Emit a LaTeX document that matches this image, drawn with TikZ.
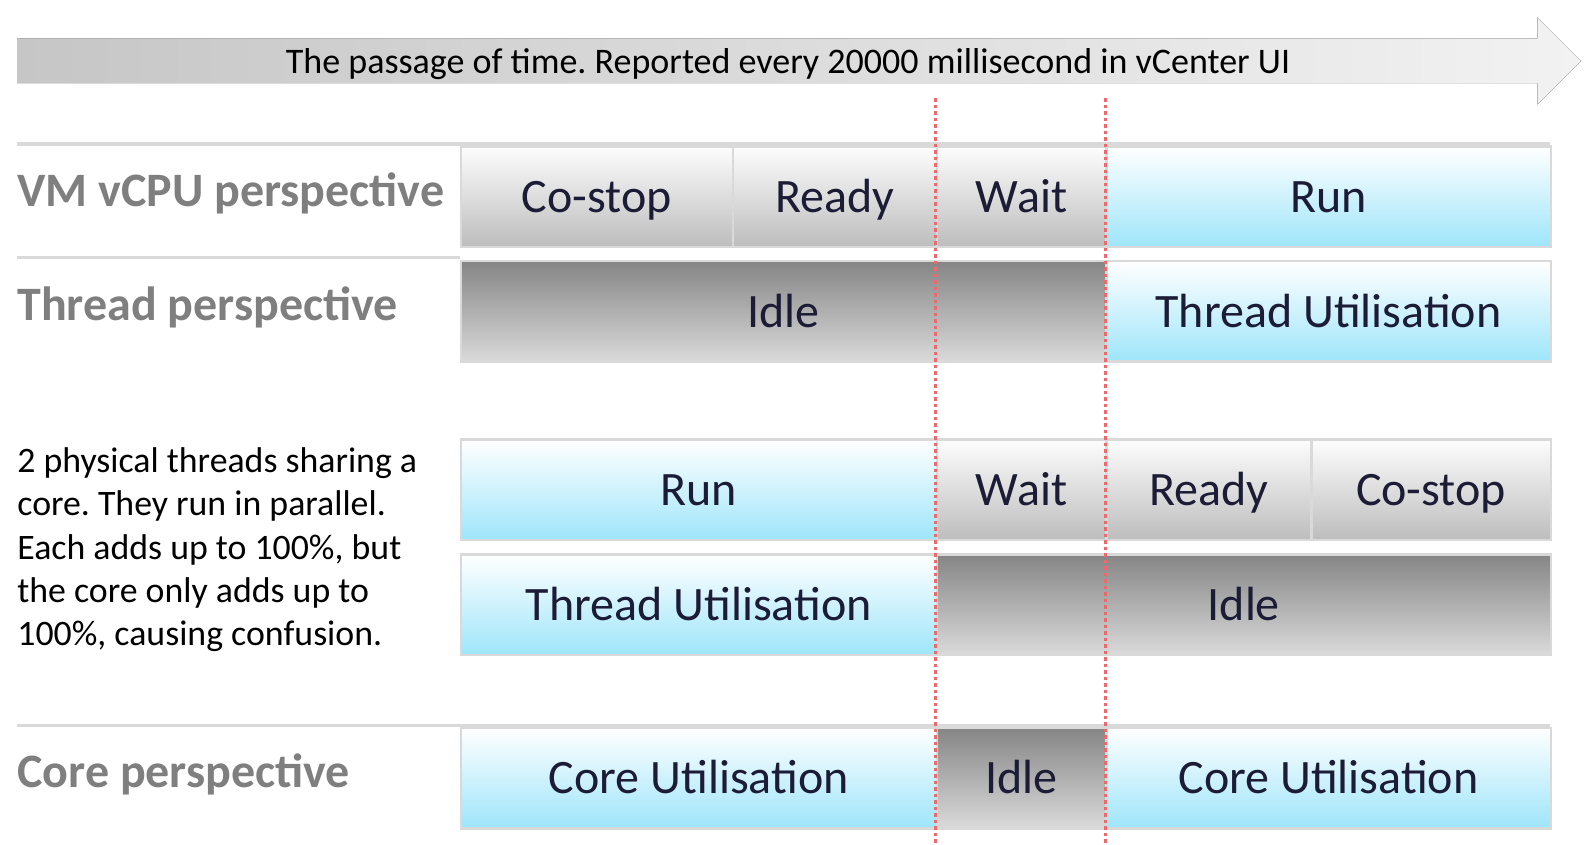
\documentclass[tikz,border=0pt]{standalone}
\usepackage{fontspec}
\setmainfont{Carlito}
\frenchspacing
\definecolor{txtnavy}{HTML}{1C1C36}
\definecolor{lblgray}{HTML}{7F7F7F}
\definecolor{sepgray}{HTML}{D9D9D9}
\definecolor{bluebot}{HTML}{9EE5FA}
\definecolor{greytop}{HTML}{FDFDFD}
\definecolor{greybot}{HTML}{BDBDBD}
\definecolor{darktop}{HTML}{858585}
\definecolor{darkbot}{HTML}{DADADA}
\definecolor{arrowL}{HTML}{C6C6C6}
\definecolor{arrowR}{HTML}{F2F2F2}
\definecolor{redline}{HTML}{EE6A6A}
\tikzset{
  boxbase/.style={draw=sepgray, line width=2.5pt, inner sep=0pt, text=txtnavy,
    font=\fontsize{48}{57}\selectfont, text height=38pt, text depth=6.5pt},
  bluebox/.style={boxbase, top color=white, bottom color=bluebot},
  greybox/.style={boxbase, top color=greytop, bottom color=greybot},
  darkbox/.style={boxbase, top color=darktop, bottom color=darkbot},
  sepline/.style={draw=sepgray, line width=3.5pt},
  timeline/.style={draw=redline, line width=3pt, dash pattern=on 3.5pt off 3pt},
  persp/.style={anchor=base west, inner sep=0pt, text=lblgray, font=\fontsize{48}{57}\selectfont\bfseries},
}
\newcommand\tlbox[6]{%
  \node[#1, minimum width={#4-#3}, minimum height=100.5, anchor=north west] (#2) at (#3,#5) {#6};}
\begin{document}
\begin{tikzpicture}[x=1pt,y=-1pt]
\useasboundingbox (0,0) rectangle (1591,844);
% time arrow
\fill[left color=arrowL, right color=arrowR]
  (17.2,38.6) -- (1537.3,38.6) -- (1537.3,17.3) -- (1581,60.9) -- (1537.3,104.5)
  -- (1537.3,83.2) -- (17.2,83.2) -- cycle;
\node[anchor=base, inner sep=0pt, font=\fontsize{36}{43}\selectfont] (timetxt) at (788,73.5)
  {The passage of time. Reported every 20000 millisecond in vCenter UI};
% separator lines
\coordinate (s1a) at (17.2,144.1); \coordinate (s1b) at (1549.5,144.1);
\coordinate (s2a) at (17.2,257.7); \coordinate (s2b) at (459.7,257.7);
\coordinate (s3a) at (17.2,725.5); \coordinate (s3b) at (1549.5,725.5);
\draw[sepline] (s1a) -- (s1b);
\draw[sepline] (s2a) -- (s2b);
\draw[sepline] (s3a) -- (s3b);
% labels
\node[persp] (lvm) at (17.2,206) {VM vCPU perspective};
\node[persp] (lth) at (17.2,320.5) {Thread perspective};
\node[persp] (lco) at (17.2,787) {Core perspective};
\node[anchor=base west, inner sep=0pt, align=left, font=\fontsize{35.8}{43.3}\selectfont] (para) at (17.2,645.7)
  {2 physical threads sharing a\\core. They run in parallel.\\Each adds up to 100\%, but\\the core only adds up to\\100\%, causing confusion.};
% VM vCPU row
\tlbox{greybox}{vcostop}{459.7}{731.6}{145.1}{Co-stop}
\tlbox{greybox}{vready}{731.6}{935.6}{145.1}{Ready}
\tlbox{greybox}{vwait}{935.6}{1105}{145.1}{Wait}
\tlbox{bluebox}{vrun}{1105}{1549.5}{145.1}{Run}
% Thread row
\tlbox{darkbox}{tidle}{459.7}{1105}{259.8}{Idle}
\tlbox{bluebox}{tutil}{1105}{1549.5}{259.8}{Thread Utilisation}
% two threads
\tlbox{bluebox}{arun}{459.7}{935.6}{438.3}{Run}
\tlbox{greybox}{await}{935.6}{1105}{438.3}{Wait}
\tlbox{greybox}{aready}{1105}{1310}{438.3}{Ready}
\tlbox{greybox}{acostop}{1310}{1549.5}{438.3}{Co-stop}
\tlbox{bluebox}{butil}{459.7}{935.6}{553}{Thread Utilisation}
\tlbox{darkbox}{bidle}{935.6}{1549.5}{553}{Idle}
% core row
\tlbox{bluebox}{cutil1}{459.7}{935.6}{726.5}{Core Utilisation}
\tlbox{darkbox}{cidle}{935.6}{1105}{726.5}{Idle}
\tlbox{bluebox}{cutil2}{1105}{1549.5}{726.5}{Core Utilisation}
% time markers
\coordinate (r1t) at (935.6,98.4); \coordinate (r1b) at (935.6,844);
\coordinate (r2t) at (1105,98.4); \coordinate (r2b) at (1105,844);
\draw[timeline] (r1t) -- (r1b);
\draw[timeline] (r2t) -- (r2b);
\end{tikzpicture}
\end{document}
